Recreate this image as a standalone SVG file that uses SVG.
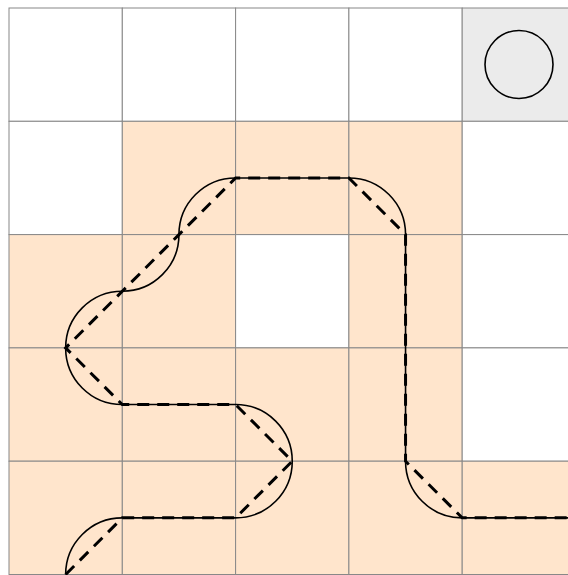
<svg xmlns="http://www.w3.org/2000/svg" width="568" height="575" viewBox="0 0 568 575">
<style>
.c{stroke:#888;stroke-width:1;fill:#fff}
.p{fill:#ffe5cc}
.g{fill:#ebebeb}
.curve{fill:none;stroke:#000;stroke-width:1.6}
.dash{fill:none;stroke:#000;stroke-width:3;stroke-dasharray:12 8}
</style>
<rect width="568" height="575" fill="#fff"/>
<g id="grid">
<rect class="c" x="9" y="8" width="113.3" height="113.3"/>
<rect class="c" x="122.3" y="8" width="113.3" height="113.3"/>
<rect class="c" x="235.6" y="8" width="113.3" height="113.3"/>
<rect class="c" x="348.9" y="8" width="113.3" height="113.3"/>
<rect class="c g" x="462.2" y="8" width="113.3" height="113.3"/>
<rect class="c" x="9" y="121.3" width="113.3" height="113.3"/>
<rect class="c p" x="122.3" y="121.3" width="113.3" height="113.3"/>
<rect class="c p" x="235.6" y="121.3" width="113.3" height="113.3"/>
<rect class="c p" x="348.9" y="121.3" width="113.3" height="113.3"/>
<rect class="c" x="462.2" y="121.3" width="113.3" height="113.3"/>
<rect class="c p" x="9" y="234.6" width="113.3" height="113.3"/>
<rect class="c p" x="122.3" y="234.6" width="113.3" height="113.3"/>
<rect class="c" x="235.6" y="234.6" width="113.3" height="113.3"/>
<rect class="c p" x="348.9" y="234.6" width="113.3" height="113.3"/>
<rect class="c" x="462.2" y="234.6" width="113.3" height="113.3"/>
<rect class="c p" x="9" y="347.9" width="113.3" height="113.3"/>
<rect class="c p" x="122.3" y="347.9" width="113.3" height="113.3"/>
<rect class="c p" x="235.6" y="347.9" width="113.3" height="113.3"/>
<rect class="c p" x="348.9" y="347.9" width="113.3" height="113.3"/>
<rect class="c" x="462.2" y="347.9" width="113.3" height="113.3"/>
<rect class="c p" x="9" y="461.2" width="113.3" height="113.3"/>
<rect class="c p" x="122.3" y="461.2" width="113.3" height="113.3"/>
<rect class="c p" x="235.6" y="461.2" width="113.3" height="113.3"/>
<rect class="c p" x="348.9" y="461.2" width="113.3" height="113.3"/>
<rect class="c p" x="462.2" y="461.2" width="113.3" height="113.3"/>
</g>
<g id="goal">
<circle cx="519" cy="64.5" r="34" fill="none" stroke="#000" stroke-width="1.6"/>
</g>
<g id="connectors">
<path class="curve" d="M 65.65 574.5 A 56.65 56.65 0 0 1 122.3 517.85 L 235.6 517.85 A 56.65 56.65 0 0 0 292.25 461.2 A 56.65 56.65 0 0 0 235.6 404.55 L 122.3 404.55 A 56.65 56.65 0 0 1 65.65 347.9 A 56.65 56.65 0 0 1 122.3 291.25 A 56.65 56.65 0 0 0 178.95 234.6 A 56.65 56.65 0 0 1 235.6 177.95 L 348.9 177.95 A 56.65 56.65 0 0 1 405.55 234.6 L 405.55 461.2 A 56.65 56.65 0 0 0 462.2 517.85 L 575.5 517.85"/>
<path class="dash" d="M 65.65 574.5 L 122.3 517.85 L 235.6 517.85 L 292.25 461.2 L 235.6 404.55 L 122.3 404.55 L 65.65 347.9 L 122.3 291.25 L 178.95 234.6 L 235.6 177.95 L 348.9 177.95 L 405.55 234.6 L 405.55 461.2 L 462.2 517.85 L 575.5 517.85"/>
</g>
</svg>
